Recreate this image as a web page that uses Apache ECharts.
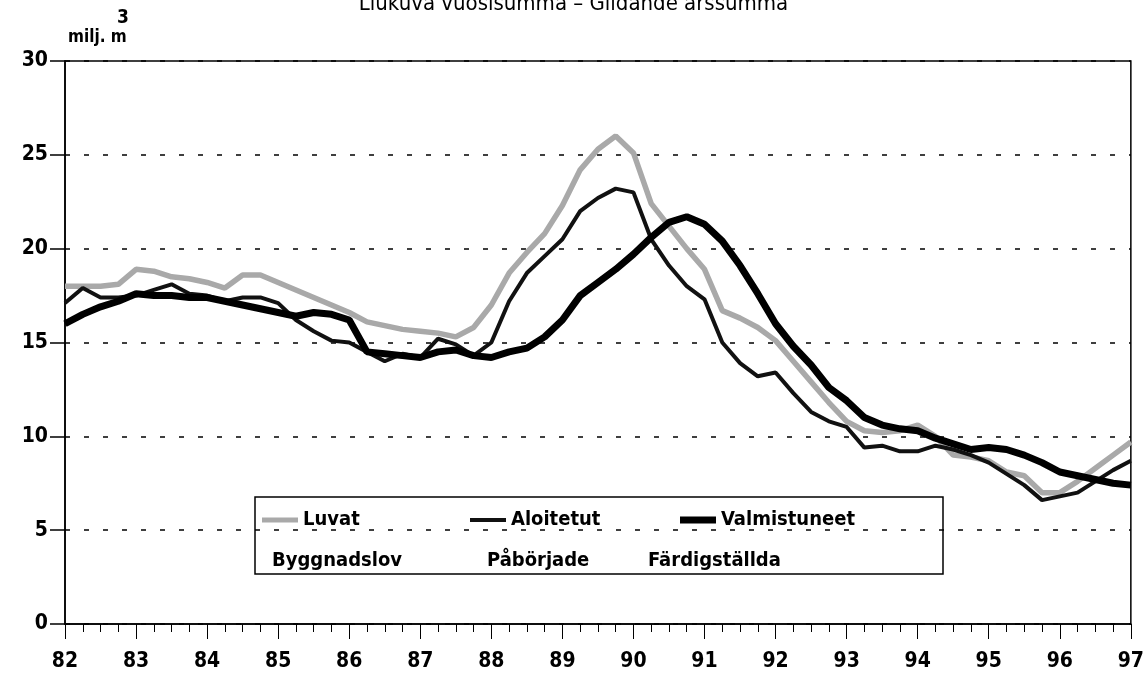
<!DOCTYPE html>
<html>
<head>
<meta charset="utf-8">
<script src="https://cdn.jsdelivr.net/npm/echarts@6/dist/echarts.min.js"></script>
<style>
html,body{margin:0;padding:0;background:#fff;}
#chart{width:1147px;height:678px;}
</style>
</head>
<body>
<div id="chart"></div>
<script>
const FONT = "'DejaVu Sans Condensed','Liberation Sans Narrow',sans-serif";

const titleText = 'Liukuva vuosisumma – Glidande årssumma';
const unitText = 'milj. m';
const unitSup = '3';

const seriesNames = ['Luvat', 'Aloitetut', 'Valmistuneet'];
const seriesNamesSv = ['Byggnadslov', 'Påbörjade', 'Färdigställda'];

const xTickLabels = ['82','83','84','85','86','87','88','89','90','91','92','93','94','95','96','97'];
const yTickLabels = ['0','5','10','15','20','25','30'];

// quarterly points from 1982 to 1997
const quarters = [
  82.00,82.25,82.50,82.75,83.00,83.25,83.50,83.75,84.00,84.25,84.50,84.75,
  85.00,85.25,85.50,85.75,86.00,86.25,86.50,86.75,87.00,87.25,87.50,87.75,
  88.00,88.25,88.50,88.75,89.00,89.25,89.50,89.75,90.00,90.25,90.50,90.75,
  91.00,91.25,91.50,91.75,92.00,92.25,92.50,92.75,93.00,93.25,93.50,93.75,
  94.00,94.25,94.50,94.75,95.00,95.25,95.50,95.75,96.00,96.25,96.50,96.75,97.00
];

const luvat = [
  18.0,18.0,18.0,18.1,18.9,18.8,18.5,18.4,18.2,17.9,18.6,18.6,
  18.2,17.8,17.4,17.0,16.6,16.1,15.9,15.7,15.6,15.5,15.3,15.8,
  17.0,18.7,19.8,20.8,22.3,24.2,25.3,26.0,25.1,22.4,21.2,20.0,
  18.9,16.7,16.3,15.8,15.1,14.0,12.9,11.8,10.8,10.3,10.2,10.3,
  10.6,10.0,9.0,8.9,8.7,8.1,7.9,7.0,7.0,7.6,8.3,9.0,9.7
];

const aloitetut = [
  17.1,17.9,17.4,17.4,17.5,17.8,18.1,17.6,17.5,17.2,17.4,17.4,
  17.1,16.2,15.6,15.1,15.0,14.5,14.0,14.4,14.2,15.2,14.9,14.3,
  15.0,17.2,18.7,19.6,20.5,22.0,22.7,23.2,23.0,20.5,19.1,18.0,
  17.3,15.0,13.9,13.2,13.4,12.3,11.3,10.8,10.5,9.4,9.5,9.2,
  9.2,9.5,9.3,9.0,8.6,8.0,7.4,6.6,6.8,7.0,7.6,8.2,8.7
];

const valmistuneet = [
  16.0,16.5,16.9,17.2,17.6,17.5,17.5,17.4,17.4,17.2,17.0,16.8,
  16.6,16.4,16.6,16.5,16.2,14.5,14.4,14.3,14.2,14.5,14.6,14.3,
  14.2,14.5,14.7,15.3,16.2,17.5,18.2,18.9,19.7,20.6,21.4,21.7,
  21.3,20.4,19.1,17.6,16.0,14.8,13.8,12.6,11.9,11.0,10.6,10.4,
  10.3,9.9,9.6,9.3,9.4,9.3,9.0,8.6,8.1,7.9,7.7,7.5,7.4
];

function pairs(vals){ return quarters.map((q,i)=>[q, vals[i]]); }

const chart = echarts.init(document.getElementById('chart'), null, {renderer:'canvas'});

const legendLefts = [262, 470, 680];
const legendThickness = [5, 4, 7];
const legends = seriesNames.map((n, i) => ({
  show: true,
  left: legendLefts[i], top: 510,
  itemWidth: 36, itemHeight: legendThickness[i],
  itemGap: 0, padding: 0,
  icon: 'rect',
  data: [n],
  selectedMode: false,
  textStyle: {fontFamily: FONT, fontSize: 20, fontWeight: 'bold', color: '#000'}
}));

chart.setOption({
  animation: false,
  backgroundColor: '#fff',
  textStyle: {fontFamily: FONT},
  grid: {left: 65, right: 14, top: 61, bottom: 54, show: true, borderColor: '#000', borderWidth: 1.5, backgroundColor: 'transparent'},
  xAxis: {
    type: 'value', min: 82, max: 97, interval: 1,
    axisLine: {show: true, lineStyle: {color: '#000', width: 1.5}},
    axisTick: {show: true, inside: false, length: 15, lineStyle: {color: '#000', width: 1}},
    minorTick: {show: true, splitNumber: 4, length: 8, lineStyle: {color: '#000', width: 1}},
    splitLine: {show: false},
    axisLabel: {
      margin: 27, fontFamily: FONT, fontSize: 21, fontWeight: 'bold', color: '#000',
      formatter: v => xTickLabels[Math.round(v - 82)]
    }
  },
  yAxis: {
    type: 'value', min: 0, max: 30, interval: 5,
    axisLine: {show: true, lineStyle: {color: '#000', width: 1.5}},
    axisTick: {show: true, inside: false, length: 15, lineStyle: {color: '#000', width: 1.5}},
    splitLine: {show: true, lineStyle: {color: '#000', width: 1.5, type: [5, 14]}},
    axisLabel: {
      margin: 17, fontFamily: FONT, fontSize: 21, fontWeight: 'bold', color: '#000',
      formatter: v => yTickLabels[Math.round(v / 5)]
    }
  },
  legend: legends,
  graphic: [
    {type: 'text', left: 'center', top: -7, style: {text: titleText, font: '22px ' + FONT, fill: '#000'}},
    {type: 'text', left: 68, top: 29, style: {text: unitText, font: 'bold 17px ' + FONT, fill: '#000'}},
    {type: 'text', left: 117, top: 9, style: {text: unitSup, font: 'bold 19px ' + FONT, fill: '#000'}},
    {type: 'rect', shape: {x: 255, y: 497, width: 688, height: 77}, style: {fill: 'transparent', stroke: '#000', lineWidth: 1.5}, z: 99},
    {type: 'text', left: 272, top: 551, style: {text: seriesNamesSv[0], font: 'bold 20px ' + FONT, fill: '#000'}, z: 100},
    {type: 'text', left: 487, top: 551, style: {text: seriesNamesSv[1], font: 'bold 20px ' + FONT, fill: '#000'}, z: 100},
    {type: 'text', left: 648, top: 551, style: {text: seriesNamesSv[2], font: 'bold 20px ' + FONT, fill: '#000'}, z: 100}
  ],
  series: [
    {name: seriesNames[0], type: 'line', data: pairs(luvat), symbol: 'none', z: 3,
     lineStyle: {color: '#a9a9a9', width: 5.5}, itemStyle: {color: '#a9a9a9'}},
    {name: seriesNames[1], type: 'line', data: pairs(aloitetut), symbol: 'none', z: 4,
     lineStyle: {color: '#111', width: 4}, itemStyle: {color: '#111'}},
    {name: seriesNames[2], type: 'line', data: pairs(valmistuneet), symbol: 'none', z: 5,
     lineStyle: {color: '#000', width: 7}, itemStyle: {color: '#000'}}
  ]
});
</script>
</body>
</html>
